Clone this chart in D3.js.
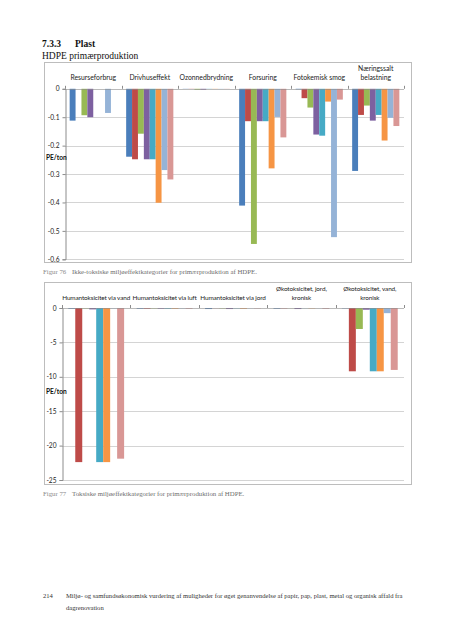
<!DOCTYPE html>
<html><head><meta charset="utf-8">
<script src="https://cdn.jsdelivr.net/npm/d3@7"></script>
<style>
html,body{margin:0;padding:0;background:#fff;}
svg{display:block;}
</style></head>
<body>
<script>
// ---------- DATA ----------
const seriesNames = ["Serie 1","Serie 2","Serie 3","Serie 4","Serie 5","Serie 6","Serie 7","Serie 8"];

// Figur 76 – non-toxic categories (PE/ton)
const categories1 = ["Resurseforbrug","Drivhuseffekt","Ozonnedbrydning","Forsuring","Fotokemisk smog","Næringssalt\nbelastning"];
const fig76Serie1 = [-0.112, -0.239, -0.0005, -0.411, -0.002, -0.289];
const fig76Serie2 = [ 0.000, -0.248, -0.0005, -0.114, -0.033, -0.092];
const fig76Serie3 = [-0.093, -0.158, -0.003, -0.546, -0.066, -0.059];
const fig76Serie4 = [-0.100, -0.248, -0.003, -0.114, -0.161, -0.112];
const fig76Serie5 = [ 0.000, -0.248, -0.0005, -0.114, -0.165, -0.092];
const fig76Serie6 = [ 0.000, -0.401, -0.0005, -0.280, -0.045, -0.182];
const fig76Serie7 = [-0.085, -0.286, -0.0005, -0.099, -0.522, -0.102];
const fig76Serie8 = [ 0.000, -0.319, -0.0005, -0.171, -0.038, -0.131];
const yTicks1 = [0, -0.1, -0.2, -0.3, -0.4, -0.5, -0.6];

// Figur 77 – toxic categories (PE/ton)
const categories2 = ["Humantoksicitet via vand","Humantoksicitet via luft","Humantoksicitet via jord","Økotoksicitet, jord,\nkronisk","Økotoksicitet, vand,\nkronisk"];
const fig77Serie1 = [-0.10, -0.10, -0.15, -0.10, -0.05];
const fig77Serie2 = [-22.4, -0.10, -0.02, -0.05, -9.2];
const fig77Serie3 = [-0.05, -0.05, -0.05, -0.02, -3.05];
const fig77Serie4 = [-0.20, -0.10, -0.15, -0.15, -0.25];
const fig77Serie5 = [-22.4, -0.10, -0.05, -0.02, -9.2];
const fig77Serie6 = [-22.4, -0.10, -0.10, -0.05, -9.2];
const fig77Serie7 = [-0.05, -0.05, -0.02, -0.02, -0.75];
const fig77Serie8 = [-21.9, -0.10, -0.05, -0.10, -9.0];
const yTicks2 = [0, -5, -10, -15, -20, -25];

const yLabel = "PE/ton";

// ---------- STYLE ----------
const colors = ["#4a7ebb","#be4b48","#98b954","#7d60a0","#46aac5","#f69544","#95b3d7","#d99795"];

const W = 452, H = 640;
const svg = d3.select("body").append("svg").attr("width", W).attr("height", H);

const serif = "'Liberation Serif', 'DejaVu Serif', serif";
const sans = "Lato, 'Liberation Sans', sans-serif";

// Heading
svg.append("text").attr("x", 42).attr("y", 47).attr("font-family", serif).attr("font-weight", "bold")
  .attr("font-size", 9.5).attr("fill", "#111").text("7.3.3");
svg.append("text").attr("x", 75).attr("y", 47).attr("font-family", serif).attr("font-weight", "bold")
  .attr("font-size", 9.5).attr("fill", "#111").text("Plast");
svg.append("text").attr("x", 42).attr("y", 58.5).attr("font-family", serif)
  .attr("font-size", 9.5).attr("fill", "#111").text("HDPE primærproduktion");

function drawChart(opt) {
  const g = svg.append("g");
  g.append("rect").attr("x", opt.box[0] + 0.5).attr("y", opt.box[1] + 0.5)
    .attr("width", opt.box[2] - opt.box[0]).attr("height", opt.box[3] - opt.box[1])
    .attr("fill", "#fff").attr("stroke", "#bdbdbd").attr("stroke-width", 1);

  const x0 = d3.scaleBand().domain(opt.categories).range([opt.left, opt.right]).paddingInner(0).paddingOuter(0);
  const x1 = d3.scaleBand().domain(seriesNames).range([0, x0.bandwidth()]).paddingInner(0).paddingOuter(opt.outerPad);
  const y = d3.scaleLinear().domain([0, opt.yMin]).range([opt.zeroY, opt.bottomY]);

  g.append("g").selectAll("line").data(opt.ticks.filter(d => d !== 0)).join("line")
    .attr("x1", opt.left).attr("x2", opt.right)
    .attr("y1", d => Math.round(y(d)) + 0.5).attr("y2", d => Math.round(y(d)) + 0.5)
    .attr("stroke", "#d4d4d4").attr("stroke-width", 1);

  const yAxis = d3.axisLeft(y).tickValues(opt.ticks).tickSize(3).tickPadding(3)
    .tickFormat(d => d === 0 ? "0" : String(d));
  const ya = g.append("g").attr("transform", `translate(${opt.left + 0.5},0)`).call(yAxis);
  ya.select(".domain").attr("stroke", "#8c8c8c");
  ya.selectAll(".tick line").attr("stroke", "#8c8c8c");
  ya.selectAll(".tick text").attr("font-family", sans).attr("font-size", 6.6).attr("fill", "#222");

  const data = [];
  opt.categories.forEach((c, ci) => {
    seriesNames.forEach((s, si) => data.push({c, s, si, v: opt.values[si][ci]}));
  });
  g.append("g").selectAll("rect").data(data).join("rect")
    .attr("x", d => x0(d.c) + x1(d.s))
    .attr("width", x1.bandwidth())
    .attr("y", d => y(0))
    .attr("height", d => Math.max(0, y(d.v) - y(0)))
    .attr("fill", d => colors[d.si]);

  g.append("line").attr("x1", opt.left).attr("x2", opt.right)
    .attr("y1", Math.round(y(0)) + 0.5).attr("y2", Math.round(y(0)) + 0.5)
    .attr("stroke", "#8c8c8c").attr("stroke-opacity", 0.6);
  const bounds = opt.categories.map(c => x0(c)).concat([opt.right]);
  g.append("g").selectAll("line").data(bounds).join("line")
    .attr("x1", d => Math.round(d) + 0.5).attr("x2", d => Math.round(d) + 0.5)
    .attr("y1", y(0) - 3).attr("y2", y(0))
    .attr("stroke", "#8c8c8c");

  opt.categories.forEach(c => {
    const lines = c.split("\n");
    const t = g.append("text").attr("text-anchor", "middle").attr("font-family", sans)
      .attr("font-size", opt.labelSize).attr("letter-spacing", opt.labelSpacing).attr("fill", "#222");
    lines.forEach((ln, i) => {
      t.append("tspan").attr("x", x0(c) + x0.bandwidth() / 2)
        .attr("y", opt.labelY - (lines.length - 1 - i) * 9).text(ln);
    });
  });

  g.append("text").attr("x", opt.yLabelX).attr("y", opt.yLabelY).attr("font-family", sans)
    .attr("font-weight", "bold").attr("font-size", 6.6).attr("fill", "#111").text(yLabel);
}

drawChart({
  box: [44, 62, 411, 262],
  left: 65, right: 404, zeroY: 88.8, bottomY: 259.3, yMin: -0.6,
  ticks: yTicks1, categories: categories1,
  values: [fig76Serie1, fig76Serie2, fig76Serie3, fig76Serie4, fig76Serie5, fig76Serie6, fig76Serie7, fig76Serie8],
  outerPad: 0.79, labelY: 80, labelSize: 6.8, labelSpacing: 0, yLabelX: 46, yLabelY: 160
});

drawChart({
  box: [44, 282, 411, 484],
  left: 62, right: 404, zeroY: 308, bottomY: 480, yMin: -25,
  ticks: yTicks2, categories: categories2,
  values: [fig77Serie1, fig77Serie2, fig77Serie3, fig77Serie4, fig77Serie5, fig77Serie6, fig77Serie7, fig77Serie8],
  outerPad: 0.9, labelY: 300, labelSize: 6.4, labelSpacing: -0.12, yLabelX: 46, yLabelY: 394
});

function caption(y, num, txt) {
  svg.append("text").attr("x", 43).attr("y", y).attr("font-family", serif).attr("font-size", 6.8)
    .attr("fill", "#8a8a8a").text(num);
  svg.append("text").attr("x", 72).attr("y", y).attr("font-family", serif).attr("font-size", 6.8)
    .attr("fill", "#6e6e6e").text(txt);
}
caption(274, "Figur 76", "Ikke-toksiske miljøeffektkategorier for primærproduktion af HDPE.");
caption(496, "Figur 77", "Toksiske miljøeffektkategorier for primærproduktion af HDPE.");

svg.append("text").attr("x", 43).attr("y", 598).attr("font-family", serif).attr("font-size", 6.6)
  .attr("fill", "#333").text("214");
svg.append("text").attr("x", 66).attr("y", 598).attr("font-family", serif).attr("font-size", 6.6)
  .attr("fill", "#333").text("Miljø- og samfundsøkonomisk vurdering af muligheder for øget genanvendelse af papir, pap, plast, metal og organisk affald fra");
svg.append("text").attr("x", 66).attr("y", 609.5).attr("font-family", serif).attr("font-size", 6.6)
  .attr("fill", "#333").text("dagrenovation");
</script>
</body></html>
